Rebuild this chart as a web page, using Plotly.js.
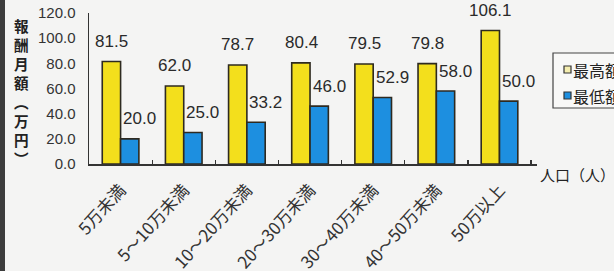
<!DOCTYPE html>
<html>
<head>
<meta charset="utf-8">
<script src="https://cdn.plot.ly/plotly-3.0.1.min.js"></script>
<style>html,body{margin:0;padding:0;background:#f4f4f3;}#chart{width:614px;height:271px;}</style>
</head>
<body>
<div id="chart"></div>
<script>
const categories = ['5万未満','5～10万未満','10～20万未満','20～30万未満','30～40万未満','40～50万未満','50万以上'];
const maxValues = [81.5, 62.0, 78.7, 80.4, 79.5, 79.8, 106.1];
const minValues = [20.0, 25.0, 33.2, 46.0, 52.9, 58.0, 50.0];
const seriesNames = ['最高額', '最低額'];
const yTickVals = [0, 20, 40, 60, 80, 100, 120];
const yTitleChars = ['報','酬','月','額','︵','万','円','︶'];
const xTitle = '人口（人）';

const PL = 89, PR = 537, PT = 13, PB = 164;
const px2x = p => (p - PL) / (PR - PL);
const py2y = p => (PB - p) / (PB - PT);

const YELLOW = '#f3df1c', BLUE = '#1d8fe0', EDGE = '#2e2a20';
const numFamily = 'Liberation Sans, Arial, sans-serif';
const numFont = {family: numFamily, size: 17, color: '#2a2a2a'};
const cjk = 'Noto Sans CJK JP, sans-serif';

const traces = [
  {type: 'bar', name: seriesNames[0], x: categories, y: maxValues,
   marker: {color: YELLOW, line: {color: EDGE, width: 1.6}}, showlegend: false, hoverinfo: 'skip'},
  {type: 'bar', name: seriesNames[1], x: categories, y: minValues,
   marker: {color: BLUE, line: {color: EDGE, width: 1.6}}, showlegend: false, hoverinfo: 'skip'}
];

const annotations = [];
categories.forEach((c, i) => {
  annotations.push({x: c, y: maxValues[i], xref: 'x', yref: 'y', text: maxValues[i].toFixed(1),
    showarrow: false, xshift: -9, yanchor: 'middle', yshift: 20, font: numFont});
  annotations.push({x: c, y: minValues[i], xref: 'x', yref: 'y', text: minValues[i].toFixed(1),
    showarrow: false, xshift: 19, yanchor: 'middle', yshift: 20, font: numFont});
});
// vertical y-axis title, one character per line
annotations.push({xref: 'paper', yref: 'paper', x: px2x(21), y: py2y(92),
  xanchor: 'center', yanchor: 'middle', text: yTitleChars.join('<br>'), showarrow: false,
  font: {family: cjk, size: 14.6, color: '#222', weight: 'bold'}});
annotations.push({xref: 'paper', yref: 'paper', x: px2x(538), y: 0, xanchor: 'left', yanchor: 'middle', yshift: -10,
  text: xTitle, showarrow: false, font: {family: cjk, size: 15, color: '#222'}});
// legend labels
annotations.push({xref: 'paper', yref: 'paper', x: px2x(571), y: py2y(70), xanchor: 'left', yanchor: 'middle',
  text: seriesNames[0], showarrow: false, font: {family: cjk, size: 16, color: '#222'}});
annotations.push({xref: 'paper', yref: 'paper', x: px2x(571), y: py2y(96), xanchor: 'left', yanchor: 'middle',
  text: seriesNames[1], showarrow: false, font: {family: cjk, size: 16, color: '#222'}});

const shapes = [
  {type: 'rect', xref: 'paper', yref: 'paper', x0: px2x(0), x1: px2x(5), y0: py2y(275), y1: py2y(-5),
   line: {width: 0}, fillcolor: '#3c3c3c'},
  {type: 'rect', xref: 'paper', yref: 'paper', x0: px2x(553), x1: px2x(650), y0: py2y(108), y1: py2y(53),
   line: {color: '#444', width: 1.2}, fillcolor: '#f8f8f7'},
  {type: 'rect', xref: 'paper', yref: 'paper', x0: px2x(564), x1: px2x(571), y0: py2y(73), y1: py2y(66),
   line: {color: '#333', width: 1.2}, fillcolor: '#f5eeb0'},
  {type: 'rect', xref: 'paper', yref: 'paper', x0: px2x(564), x1: px2x(571), y0: py2y(99), y1: py2y(92),
   line: {color: '#333', width: 1.2}, fillcolor: BLUE}
];

const layout = {
  width: 614, height: 271,
  margin: {l: PL, r: 614 - PR, t: PT, b: 271 - PB, pad: 0, autoexpand: false},
  paper_bgcolor: '#f4f4f3', plot_bgcolor: 'rgba(0,0,0,0)',
  barmode: 'group', bargap: 0.42, bargroupgap: 0,
  showlegend: false,
  xaxis: {type: 'category', showgrid: false, zeroline: false, showline: true, linecolor: '#333', linewidth: 1.5,
    ticks: 'inside', tickson: 'boundaries', ticklen: 4, tickcolor: '#333', tickwidth: 1.2,
    tickangle: -48, ticklabelstandoff: 8, tickfont: {family: cjk, size: 17, color: '#333'}},
  yaxis: {range: [0, 120], tickvals: yTickVals, tickformat: '.1f', showgrid: false, zeroline: false,
    showline: true, linecolor: '#333', linewidth: 1.5, ticks: '', ticklabelstandoff: 9,
    tickfont: {family: numFamily, size: 15, color: '#333'}},
  annotations: annotations,
  shapes: shapes
};

Plotly.newPlot('chart', traces, layout, {displayModeBar: false, staticPlot: true});
</script>
</body>
</html>
